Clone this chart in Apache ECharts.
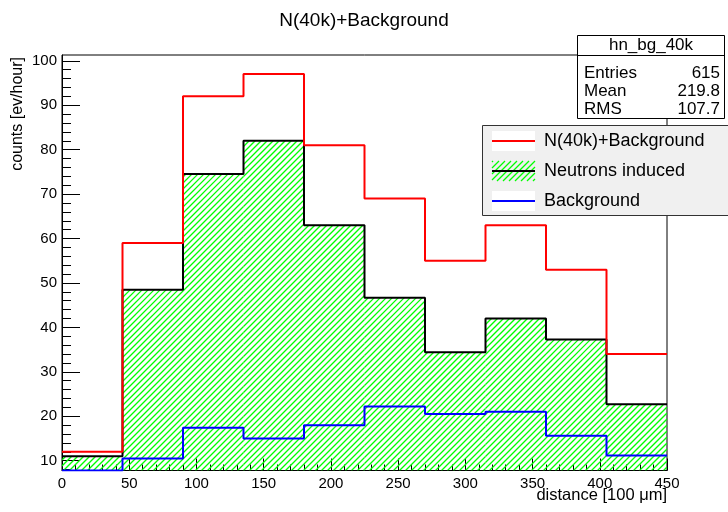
<!DOCTYPE html>
<html>
<head>
<meta charset="utf-8">
<script src="https://cdn.jsdelivr.net/npm/echarts@6/dist/echarts.min.js"></script>
<style>
html, body { margin: 0; padding: 0; background: #fff; }
#chart { width: 728px; height: 512px; }
</style>
</head>
<body>
<div id="chart"></div>
<script>
// ---- data ----
const binEdges = [0, 45, 90, 135, 180, 225, 270, 315, 360, 405, 450];
const totalCounts = [12, 59, 92, 97, 81, 69, 55, 63, 53, 34];
const neutronCounts = [11, 48.5, 74.5, 82, 63, 46.7, 34.4, 42, 37.3, 22.7];
const backgroundCounts = [1, 10.5, 17.4, 15, 18, 22.2, 20.5, 21, 15.6, 11.2];
const yTickLabels = [10, 20, 30, 40, 50, 60, 70, 80, 90, 100];
const xTickLabels = [0, 50, 100, 150, 200, 250, 300, 350, 400, 450];
const seriesNames = ['N(40k)+Background', 'Neutrons induced', 'Background'];
const statsTitle = 'hn_bg_40k';
const statsRows = [['Entries', '615'], ['Mean', '219.8'], ['RMS', '107.7']];
const chartTitle = 'N(40k)+Background';
const xAxisTitle = 'distance [100 \u03BCm]';
const yAxisTitle = 'counts [ev/hour]';

const Y_MIN = 7.8, Y_MAX = 101.3;
const FONT = '"Liberation Sans", Arial, Helvetica, sans-serif';
const HATCH_COLOR = '#00ff00';
const HATCH_WIDTH = 1.3;
const HATCH_STEP = 6;

function stepData(vals) {
  const d = [];
  for (let i = 0; i < vals.length; i++) d.push([binEdges[i], Math.max(vals[i], Y_MIN)]);
  d.push([binEdges[binEdges.length - 1], Math.max(vals[vals.length - 1], Y_MIN)]);
  return d;
}

const yMinor = [];
for (let v = 8; v <= 100; v += 2) if (v % 10 !== 0) yMinor.push(v);

// "/" hatch lines inside a pixel rectangle, aligned to a global pixel grid
function hatchLines(xa, ya, xb, yb, z) {
  const out = [];
  let c = Math.ceil((xa + ya) / HATCH_STEP) * HATCH_STEP;
  for (; c <= xb + yb; c += HATCH_STEP) {
    const x1 = Math.max(xa, c - yb), x2 = Math.min(xb, c - ya);
    if (x2 <= x1) continue;
    const el = { type: 'line', shape: { x1: x1, y1: c - x1, x2: x2, y2: c - x2 },
      style: { stroke: HATCH_COLOR, lineWidth: HATCH_WIDTH, fill: null } };
    if (z != null) el.z = z;
    out.push(el);
  }
  return out;
}

function renderHatch(params, api) {
  const i = params.dataIndex;
  const v = neutronCounts[i];
  const p0 = api.coord([binEdges[i], Y_MIN]);
  const p1 = api.coord([binEdges[i + 1], v]);
  return { type: 'group', children: hatchLines(p0[0], p1[1], p1[0], p0[1]) };
}

const chart = echarts.init(document.getElementById('chart'), null, { renderer: 'canvas' });

const L = 62, R = 667, T = 55, B = 470.5;

const option = {
  animation: false,
  backgroundColor: '#fff',
  textStyle: { fontFamily: FONT },
  title: {
    text: chartTitle, left: 'center', top: 6,
    textStyle: { fontFamily: FONT, fontSize: 19, fontWeight: 'normal', color: '#000' }
  },
  grid: {
    left: L, right: 728 - R, top: T, bottom: 512 - B,
    containLabel: false, outerBoundsMode: 'none',
    show: true, borderColor: '#000', borderWidth: 1, backgroundColor: 'transparent'
  },
  xAxis: {
    type: 'value', min: 0, max: 450, interval: 50,
    axisLine: { show: true, onZero: false, lineStyle: { color: '#000', width: 1 } },
    axisTick: { show: true, inside: true, length: 12, lineStyle: { color: '#000' } },
    minorTick: { show: true, splitNumber: 5, length: 6, lineStyle: { color: '#000' } },
    splitLine: { show: false },
    axisLabel: {
      color: '#000', fontSize: 15, fontFamily: FONT, margin: 6,
      customValues: xTickLabels, formatter: v => String(v)
    }
  },
  yAxis: [
    {
      type: 'value', min: Y_MIN, max: Y_MAX,
      axisLine: { show: true, onZero: false, lineStyle: { color: '#000', width: 1 } },
      axisTick: { show: true, inside: true, length: 18, customValues: yTickLabels, lineStyle: { color: '#000' } },
      splitLine: { show: false },
      axisLabel: { color: '#000', fontSize: 15, fontFamily: FONT, margin: 5, customValues: yTickLabels, formatter: v => String(v) }
    },
    {
      type: 'value', min: Y_MIN, max: Y_MAX, position: 'left', offset: 0,
      axisLine: { show: false },
      axisTick: { show: true, inside: true, length: 9, customValues: yMinor, lineStyle: { color: '#000' } },
      axisLabel: { show: false },
      splitLine: { show: false }
    }
  ],
  series: [
    {
      name: 'hatch', type: 'custom', yAxisIndex: 0, silent: true, clip: true, z: 1,
      data: neutronCounts.map((v, i) => [binEdges[i], v]),
      renderItem: renderHatch
    },
    {
      name: seriesNames[1], type: 'line', step: 'end', yAxisIndex: 0,
      data: stepData(neutronCounts), symbol: 'none', z: 2,
      lineStyle: { color: '#000', width: 2 }
    },
    {
      name: seriesNames[0], type: 'line', step: 'end', yAxisIndex: 0,
      data: stepData(totalCounts), symbol: 'none', z: 3,
      lineStyle: { color: '#ff0000', width: 2 }
    },
    {
      name: seriesNames[2], type: 'line', step: 'end', yAxisIndex: 0,
      data: stepData(backgroundCounts), symbol: 'none', z: 4,
      lineStyle: { color: '#0000ff', width: 2 }
    }
  ],
  graphic: []
};

const gr = option.graphic;

// axis titles
gr.push({ type: 'text', z: 50, x: 18, y: 57, rotation: Math.PI / 2,
  style: { text: yAxisTitle, font: '16px ' + FONT, fill: '#000', align: 'right', verticalAlign: 'middle' } });
gr.push({ type: 'text', z: 50, x: 667, y: 495,
  style: { text: xAxisTitle, font: '16.5px ' + FONT, fill: '#000', align: 'right', verticalAlign: 'middle' } });

// stats box
const SX = 577.5, SY = 35.5, SW = 147, SH = 83;
gr.push({ type: 'rect', z: 100, shape: { x: SX, y: SY, width: SW, height: SH }, style: { fill: '#fff', stroke: '#000', lineWidth: 1 } });
gr.push({ type: 'line', z: 101, shape: { x1: SX, y1: 55.5, x2: SX + SW, y2: 55.5 }, style: { stroke: '#000', lineWidth: 1 } });
gr.push({ type: 'text', z: 102, x: SX + SW / 2, y: 45.5, style: { text: statsTitle, font: '17px ' + FONT, fill: '#000', align: 'center', verticalAlign: 'middle' } });
statsRows.forEach((r, i) => {
  const y = 73 + i * 18.3;
  gr.push({ type: 'text', z: 102, x: 584, y: y, style: { text: r[0], font: '17px ' + FONT, fill: '#000', align: 'left', verticalAlign: 'middle' } });
  gr.push({ type: 'text', z: 102, x: 720, y: y, style: { text: r[1], font: '17px ' + FONT, fill: '#000', align: 'right', verticalAlign: 'middle' } });
});

// legend box
const LX = 482.5, LY = 125.5, LW = 246, LH = 90;
gr.push({ type: 'rect', z: 100, shape: { x: LX, y: LY, width: LW, height: LH }, style: { fill: '#f0f0f0', stroke: '#333', lineWidth: 1 } });
const legendColors = ['#ff0000', '#000000', '#0000ff'];
[0, 1, 2].forEach(i => {
  const cy = 141 + i * 30;
  if (i === 1) {
    hatchLines(492, cy - 10, 535, cy + 10, 101).forEach(el => gr.push(el));
  } else {
    gr.push({ type: 'rect', z: 101, shape: { x: 492, y: cy - 10, width: 43, height: 20 }, style: { fill: '#fff' } });
  }
  gr.push({ type: 'line', z: 102, shape: { x1: 492, y1: cy, x2: 535, y2: cy }, style: { stroke: legendColors[i], lineWidth: 2 } });
  gr.push({ type: 'text', z: 102, x: 544, y: cy, style: { text: seriesNames[i], font: '18px ' + FONT, fill: '#000', align: 'left', verticalAlign: 'middle' } });
});

chart.setOption(option);
</script>
</body>
</html>
